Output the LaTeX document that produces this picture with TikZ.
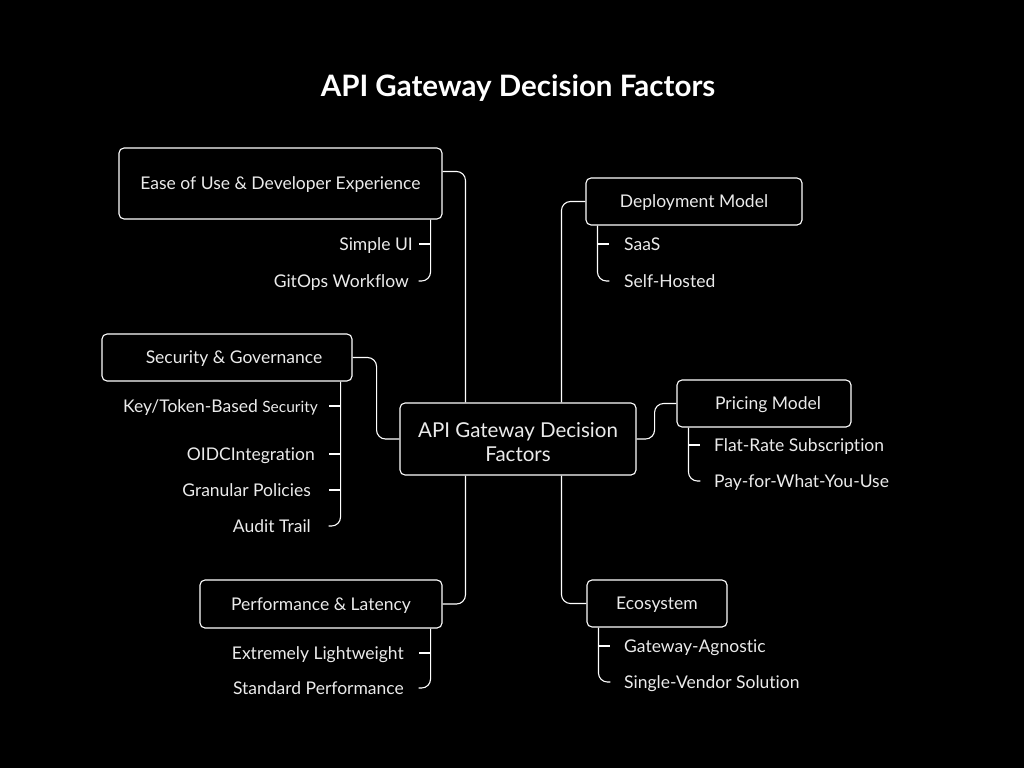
\documentclass[tikz,border=0pt]{standalone}
\usepackage{fontspec}
\setmainfont{Lato}[Ligatures={NoCommon}]
\usetikzlibrary{calc}
\definecolor{fg}{gray}{0.92}
\begin{document}
\begin{tikzpicture}[x=1pt,y=-1pt,
  box/.style={draw=white, line width=1.1pt, rounded corners=5pt, text=fg,
    font=\fontsize{17.5}{21}\selectfont, inner sep=0pt, text height=14pt, text depth=1.5pt},
  lab/.style={text=fg, font=\fontsize{17.5}{21}\selectfont, inner sep=0pt,
    text height=14pt, text depth=1.5pt},
  conn/.style={draw=white, line width=1.1pt, rounded corners=9pt}]
\fill[black] (0,0) rectangle (1024,768);
\useasboundingbox (0,0) rectangle (1024,768);

\node[text=white, font=\fontsize{29.5}{34}\selectfont\bfseries] (title) at (518,88) {API Gateway Decision Factors};

% central
\node[draw=white, line width=1.1pt, rounded corners=5pt, text=fg, inner sep=0pt,
  minimum width=236pt, minimum height=72pt, align=center, text height=47pt, text depth=2pt,
  font=\fontsize{20.5}{24}\selectfont] (c) at (518,439) {API Gateway Decision\\Factors};

% category boxes
\node[box, minimum width=323pt, minimum height=71pt] (e) at (280.5,183.5) {Ease of Use \& Developer Experience};
\node[box, minimum width=250pt, minimum height=47pt] (s) at (227,357.5) {\hspace*{14pt}Security \& Governance};
\node[box, minimum width=242pt, minimum height=48pt] (p) at (321,604) {Performance \& Latency};
\node[box, minimum width=216pt, minimum height=47pt] (d) at (694,201.5) {Deployment Model};
\node[box, minimum width=174pt, minimum height=47pt] (pr) at (764,403.5) {\hspace*{8pt}Pricing Model};
\node[box, minimum width=140pt, minimum height=47pt] (eco) at (657,603.5) {Ecosystem};

% anchor coordinates on the central node
\coordinate (cn1) at ($(c.north west)+(66,0)$);
\coordinate (cn2) at ($(c.north west)+(162,0)$);
\coordinate (cs1) at ($(c.south west)+(66,0)$);
\coordinate (cs2) at ($(c.south west)+(162,0)$);
\coordinate (ea) at ($(e.north east)+(0,24)$);

% main connectors
\draw[conn] (ea) -| (cn1);
\draw[conn] (p.east) -| (cs1);
\draw[conn] (cn2) |- (d.west);
\draw[conn] (cs2) |- (eco.west);
\draw[conn] (s.east) -- ++(24,0) |- (c.west);
\draw[conn] (c.east) -- ++(18,0) |- (pr.west);

% leaf labels
\node[lab, anchor=east] (e1) at (413,244) {Simple UI};
\node[lab, anchor=east] (e2) at (409,281) {GitOps Workflow};
\node[lab, anchor=east] (s1) at (318,406) {Key/Token-Based {\fontsize{15.5}{18}\selectfont Security}};
\node[lab, anchor=east] (s2) at (315,454) {OIDCIntegration};
\node[lab, anchor=east] (s3) at (311,490) {Granular Policies};
\node[lab, anchor=east] (s4) at (311,526) {Audit Trail};
\node[lab, anchor=east] (p1) at (404,653) {Extremely Lightweight};
\node[lab, anchor=east] (p2) at (404,688) {Standard Performance};
\node[lab, anchor=west] (d1) at (624,244) {SaaS};
\node[lab, anchor=west] (d2) at (624,281) {Self-Hosted};
\node[lab, anchor=west] (pr1) at (714,445) {Flat-Rate Subscription};
\node[lab, anchor=west] (pr2) at (714,481) {Pay-for-What-You-Use};
\node[lab, anchor=west] (eco1) at (624,646) {Gateway-Agnostic};
\node[lab, anchor=west] (eco2) at (624,682) {Single-Vendor Solution};

% trunks
\coordinate (et) at ($(e.south east)+(-12,0)$);
\coordinate (st) at ($(s.south east)+(-12,0)$);
\coordinate (pt) at ($(p.south east)+(-12,0)$);
\coordinate (dt) at ($(d.south west)+(12,0)$);
\coordinate (prt) at ($(pr.south west)+(12,0)$);
\coordinate (ecot) at ($(eco.south west)+(12,0)$);

\draw[conn] (et |- e1.east) -- ++(-12,0);
\draw[conn] (et) |- ($(et |- e2.east)+(-12,0)$);

\draw[conn] (st |- s1.east) -- ++(-12,0);
\draw[conn] (st |- s2.east) -- ++(-12,0);
\draw[conn] (st |- s3.east) -- ++(-12,0);
\draw[conn] (st) |- ($(st |- s4.east)+(-12,0)$);

\draw[conn] (pt |- p1.east) -- ++(-12,0);
\draw[conn] (pt) |- ($(pt |- p2.east)+(-12,0)$);

\draw[conn] (dt |- d1.west) -- ++(12,0);
\draw[conn] (dt) |- ($(dt |- d2.west)+(12,0)$);

\draw[conn] (prt |- pr1.west) -- ++(12,0);
\draw[conn] (prt) |- ($(prt |- pr2.west)+(12,0)$);

\draw[conn] (ecot |- eco1.west) -- ++(12,0);
\draw[conn] (ecot) |- ($(ecot |- eco2.west)+(12,0)$);
\end{tikzpicture}
\end{document}
